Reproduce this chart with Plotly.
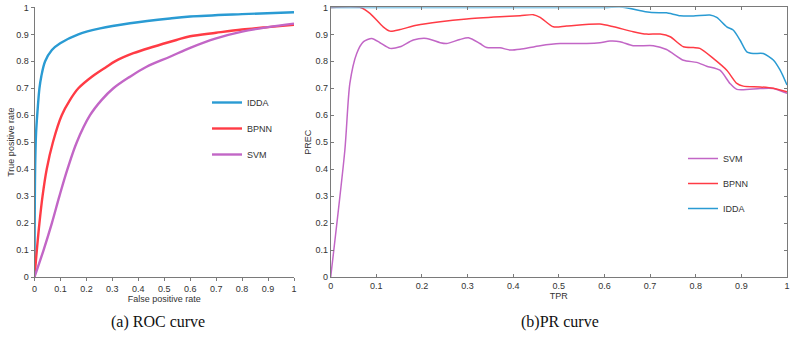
import plotly.graph_objects as go

# ---------------- ROC data (a) ----------------
roc_idda_fpr = [0.0, 0.0026, 0.006, 0.012, 0.019, 0.026, 0.041, 0.067, 0.099, 0.169, 0.253, 0.368, 0.522, 0.6, 0.8, 1.0]
roc_idda_tpr = [0.0, 0.41, 0.533, 0.62, 0.70, 0.743, 0.80, 0.842, 0.867, 0.90, 0.922, 0.941, 0.959, 0.966, 0.975, 0.982]

roc_bpnn_fpr = [0.0, 0.009, 0.019, 0.031, 0.047, 0.071, 0.105, 0.137, 0.169, 0.221, 0.278, 0.31, 0.381, 0.458, 0.547, 0.6, 0.7, 0.8, 0.9, 1.0]
roc_bpnn_tpr = [0.0, 0.1, 0.2, 0.3, 0.4, 0.5, 0.6, 0.657, 0.70, 0.743, 0.78, 0.80, 0.83, 0.854, 0.879, 0.893, 0.906, 0.918, 0.927, 0.935]

roc_svm_fpr = [0.0, 0.035, 0.067, 0.096, 0.127, 0.163, 0.214, 0.259, 0.304, 0.368, 0.432, 0.522, 0.6, 0.7, 0.8, 0.9, 1.0]
roc_svm_tpr = [0.0, 0.1, 0.2, 0.3, 0.4, 0.5, 0.6, 0.657, 0.70, 0.743, 0.78, 0.817, 0.85, 0.885, 0.91, 0.927, 0.94]

# ---------------- PR data (b) ----------------
pr_idda_tpr = [0.0, 0.2, 0.4, 0.6, 0.64, 0.69, 0.72, 0.736, 0.766, 0.795, 0.831, 0.846, 0.868, 0.882, 0.897, 0.912, 0.926, 0.948, 0.97, 0.985, 1.0]
pr_idda_prec = [1.0, 1.0, 1.0, 1.0, 1.001, 0.984, 0.98, 0.98, 0.969, 0.968, 0.972, 0.963, 0.928, 0.916, 0.879, 0.835, 0.829, 0.829, 0.805, 0.767, 0.712]

pr_bpnn_tpr = [0.0, 0.064, 0.086, 0.115, 0.13, 0.152, 0.188, 0.24, 0.298, 0.371, 0.415, 0.444, 0.459, 0.488, 0.517, 0.59, 0.62, 0.663, 0.692, 0.722, 0.744, 0.773, 0.795, 0.809, 0.839, 0.868, 0.89, 0.904, 0.941, 0.97, 1.0]
pr_bpnn_prec = [1.0, 1.0, 0.978, 0.928, 0.912, 0.918, 0.934, 0.947, 0.957, 0.965, 0.969, 0.973, 0.963, 0.928, 0.931, 0.938, 0.928, 0.91, 0.901, 0.901, 0.891, 0.854, 0.851, 0.848, 0.81, 0.767, 0.718, 0.708, 0.705, 0.7, 0.687]

pr_svm_tpr = [0.0, 0.031, 0.042, 0.057, 0.072, 0.09, 0.108, 0.13, 0.152, 0.181, 0.21, 0.24, 0.254, 0.283, 0.302, 0.327, 0.342, 0.371, 0.393, 0.415, 0.459, 0.503, 0.561, 0.59, 0.612, 0.634, 0.663, 0.707, 0.736, 0.773, 0.802, 0.824, 0.853, 0.875, 0.89, 0.941, 0.97, 1.0]
pr_svm_prec = [0.0, 0.47, 0.718, 0.829, 0.873, 0.885, 0.869, 0.848, 0.854, 0.879, 0.885, 0.869, 0.866, 0.881, 0.887, 0.866, 0.851, 0.85, 0.842, 0.845, 0.858, 0.866, 0.866, 0.869, 0.875, 0.873, 0.858, 0.858, 0.844, 0.804, 0.796, 0.782, 0.767, 0.718, 0.696, 0.699, 0.699, 0.681]

tick_vals = [0, 0.1, 0.2, 0.3, 0.4, 0.5, 0.6, 0.7, 0.8, 0.9, 1]
tick_text = ["0", "0.1", "0.2", "0.3", "0.4", "0.5", "0.6", "0.7", "0.8", "0.9", "1"]

C_IDDA = "#2A9BD3"
C_BPNN = "#FF3B45"
C_SVM = "#C266C6"

W, H = 797, 339

fig = go.Figure()

# left ROC
fig.add_trace(go.Scatter(x=roc_idda_fpr, y=roc_idda_tpr, mode="lines", name="IDDA",
                         line=dict(color=C_IDDA, width=2.4, shape="spline", smoothing=1.0),
                         xaxis="x", yaxis="y", legend="legend", legendgroup="a1"))
fig.add_trace(go.Scatter(x=roc_bpnn_fpr, y=roc_bpnn_tpr, mode="lines", name="BPNN",
                         line=dict(color=C_BPNN, width=2.4, shape="spline", smoothing=1.0),
                         xaxis="x", yaxis="y", legend="legend", legendgroup="a2"))
fig.add_trace(go.Scatter(x=roc_svm_fpr, y=roc_svm_tpr, mode="lines", name="SVM",
                         line=dict(color=C_SVM, width=2.4, shape="spline", smoothing=1.0),
                         xaxis="x", yaxis="y", legend="legend", legendgroup="a3"))

# right PR
fig.add_trace(go.Scatter(x=pr_svm_tpr, y=pr_svm_prec, mode="lines", name="SVM",
                         line=dict(color=C_SVM, width=1.5, shape="spline", smoothing=0.7),
                         xaxis="x2", yaxis="y2", legend="legend2", legendgroup="b1"))
fig.add_trace(go.Scatter(x=pr_bpnn_tpr, y=pr_bpnn_prec, mode="lines", name="BPNN",
                         line=dict(color=C_BPNN, width=1.5, shape="spline", smoothing=0.7),
                         xaxis="x2", yaxis="y2", legend="legend2", legendgroup="b2"))
fig.add_trace(go.Scatter(x=pr_idda_tpr, y=pr_idda_prec, mode="lines", name="IDDA",
                         line=dict(color=C_IDDA, width=1.5, shape="spline", smoothing=0.7),
                         xaxis="x2", yaxis="y2", legend="legend2", legendgroup="b3"))

ax_font = dict(family="Liberation Sans, Arial, sans-serif", size=9, color="#333333")
y_dom = [1 - 277.0 / H, 1 - 7.4 / H]

common = dict(range=[0, 1], tickvals=tick_vals, ticktext=tick_text, showgrid=False, zeroline=False,
              showline=True, linecolor="#7a7a7a", linewidth=1, tickcolor="#7a7a7a", ticklen=3,
              tickfont=ax_font, title_font=ax_font, automargin=False)

fig.update_layout(
    width=W, height=H, margin=dict(l=0, r=0, t=0, b=0),
    paper_bgcolor="white", plot_bgcolor="white",
    xaxis=dict(domain=[34.5 / W, 294 / W], anchor="y", ticks="outside",
               title=dict(text="False positive rate", standoff=1), **common),
    yaxis=dict(domain=y_dom, anchor="x", ticks="outside",
               title=dict(text="True positive rate", standoff=0), **common),
    xaxis2=dict(domain=[330.7 / W, 787 / W], anchor="y2", ticks="inside", mirror="ticks",
                title=dict(text="TPR", standoff=2), **common),
    yaxis2=dict(domain=y_dom, anchor="x2", ticks="inside", mirror="ticks",
                title=dict(text="PREC", standoff=2), **common),
    legend=dict(x=207 / W, y=1 - 88 / H, xanchor="left", yanchor="top",
                bgcolor="rgba(0,0,0,0)", font=ax_font, itemwidth=30,
                tracegroupgap=7, traceorder="grouped"),
    legend2=dict(x=683 / W, y=1 - 144 / H, xanchor="left", yanchor="top",
                 bgcolor="rgba(0,0,0,0)", font=ax_font, itemwidth=30,
                 tracegroupgap=6, traceorder="grouped"),
    annotations=[
        dict(text="(a) ROC curve", x=158 / W, y=1 - 322 / H, xref="paper", yref="paper",
             xanchor="center", yanchor="middle", showarrow=False,
             font=dict(family="Liberation Serif, serif", size=16, color="#111111")),
        dict(text="(b)PR curve", x=560 / W, y=1 - 322 / H, xref="paper", yref="paper",
             xanchor="center", yanchor="middle", showarrow=False,
             font=dict(family="Liberation Serif, serif", size=16, color="#111111")),
    ],
)

fig.write_html("out.html")
